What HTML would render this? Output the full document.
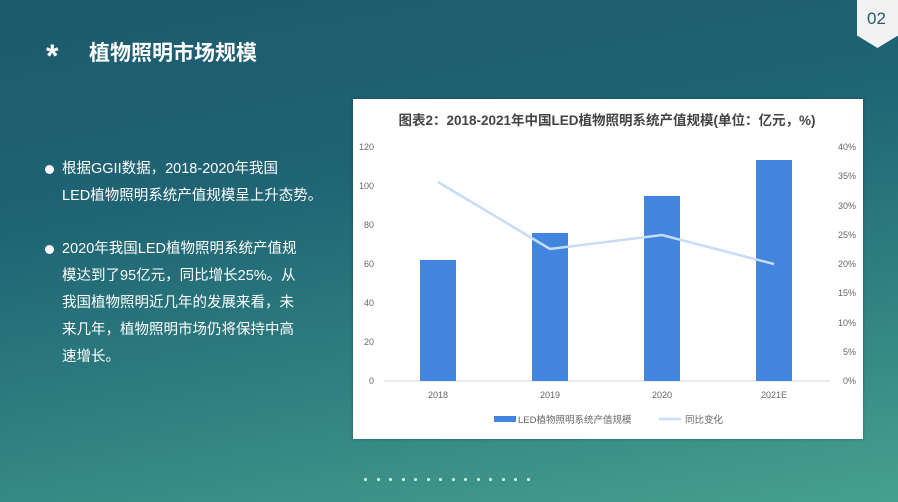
<!DOCTYPE html>
<html><head><meta charset="utf-8"><style>
*{margin:0;padding:0;box-sizing:border-box}
body{width:898px;height:502px;overflow:hidden;position:relative;font-family:"Liberation Sans","Noto Sans CJK SC",sans-serif;
background:linear-gradient(170deg,#1c5a6d 0%,#1f6474 35%,#2e7f80 65%,#47a08e 100%);}
.title{position:absolute;left:89px;top:37px;color:#fff;font-size:21px;font-weight:bold;letter-spacing:0px}
.star{position:absolute;left:46px;top:40px;color:#fff;font-size:32px;font-weight:bold;line-height:32px}
.tag{position:absolute;left:857px;top:0;width:41px;height:48px;background:#f2f2f2;clip-path:polygon(0 0,100% 0,100% 74%,50% 100%,0 74%)}
.tag span{position:absolute;left:10px;top:9px;font-size:17px;color:#2a5b6b}
.p{position:absolute;left:62px;color:#fff;font-size:14.5px;line-height:27px}
.dot{position:absolute;left:45px;width:9px;height:9px;border-radius:50%;background:#fff}
.chart{position:absolute;left:353px;top:99px;width:510px;height:340px;background:#fff;box-shadow:0 0 3px rgba(0,0,0,.3)}
.dots{position:absolute;top:468px;left:364px}
.dots i{display:inline-block;width:3px;height:3px;border-radius:50%;background:#dfe;margin-right:9.5px}
</style></head><body>
<div class="star">*</div>
<div class="title">植物照明市场规模</div>
<div class="tag"><span>02</span></div>
<div class="dot" style="top:165px"></div>
<div class="p" style="top:156px">根据GGII数据，2018-2020年我国<br>LED植物照明系统产值规模呈上升态势。</div>
<div class="dot" style="top:245px"></div>
<div class="p" style="top:236px">2020年我国LED植物照明系统产值规<br>模达到了95亿元，同比增长25%。从<br>我国植物照明近几年的发展来看，未<br>来几年，植物照明市场仍将保持中高<br>速增长。</div>
<div class="chart">
<svg width="510" height="340" viewBox="353 99 510 340" style="position:absolute;left:0;top:0" font-family="Liberation Sans, Noto Sans CJK SC, sans-serif">
<text x="607" y="125" text-anchor="middle" font-size="13.5" font-weight="bold" fill="#444">图表2：2018-2021年中国LED植物照明系统产值规模(单位：亿元，%)</text>
<g font-size="9" fill="#666" text-anchor="end">
<text x="374" y="384">0</text><text x="374" y="345">20</text><text x="374" y="306">40</text><text x="374" y="267">60</text><text x="374" y="228">80</text><text x="374" y="189">100</text><text x="374" y="150">120</text>
</g>
<g font-size="9" fill="#666" text-anchor="end">
<text x="856" y="384">0%</text><text x="856" y="355">5%</text><text x="856" y="326">10%</text><text x="856" y="296">15%</text><text x="856" y="267">20%</text><text x="856" y="238">25%</text><text x="856" y="209">30%</text><text x="856" y="179">35%</text><text x="856" y="150">40%</text>
</g>
<line x1="384" y1="381" x2="830" y2="381" stroke="#d9d9d9"/>
<g fill="#4285de">
<rect x="420" y="260" width="36" height="121"/>
<rect x="532" y="233" width="36" height="148"/>
<rect x="644" y="196" width="36" height="185"/>
<rect x="756" y="160" width="36" height="221"/>
</g>
<polyline points="438,182 550,249 662,235 774,264" fill="none" stroke="#c6dcf7" stroke-width="2.5"/>
<g font-size="9" fill="#666" text-anchor="middle">
<text x="438" y="398">2018</text><text x="550" y="398">2019</text><text x="662" y="398">2020</text><text x="774" y="398">2021E</text>
</g>
<rect x="494" y="416" width="22" height="6" fill="#4285de"/>
<text x="518" y="423" font-size="9.5" fill="#666">LED植物照明系统产值规模</text>
<line x1="659" y1="419" x2="681" y2="419" stroke="#c6dcf7" stroke-width="2.5"/>
<text x="685" y="423" font-size="9.5" fill="#666">同比变化</text>
</svg>
</div>
<div class="dots"><i></i><i></i><i></i><i></i><i></i><i></i><i></i><i></i><i></i><i></i><i></i><i></i><i></i><i></i></div>
</body></html>
